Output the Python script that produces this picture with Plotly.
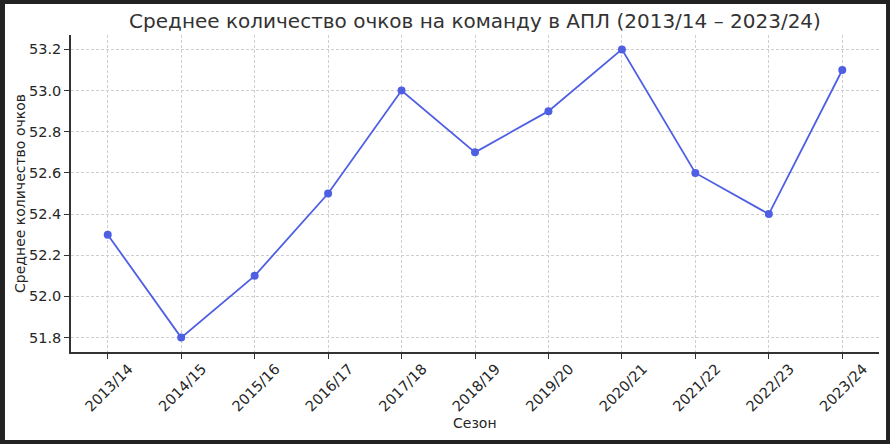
import plotly.graph_objects as go

seasons = ["2013/14", "2014/15", "2015/16", "2016/17", "2017/18", "2018/19",
           "2019/20", "2020/21", "2021/22", "2022/23", "2023/24"]
avg_points = [52.3, 51.8, 52.1, 52.5, 53.0, 52.7, 52.9, 53.2, 52.6, 52.4, 53.1]
y_ticks = [51.8, 52.0, 52.2, 52.4, 52.6, 52.8, 53.0, 53.2]
y_tick_labels = ["51.8", "52.0", "52.2", "52.4", "52.6", "52.8", "53.0", "53.2"]

FONT = "DejaVu Sans"
color = "#4F5FE3"

fig = go.Figure()
fig.add_trace(go.Scatter(
    x=seasons, y=avg_points, mode="lines+markers",
    line=dict(color=color, width=1.8),
    marker=dict(color=color, size=8),
    showlegend=False,
))

fig.update_layout(
    width=890, height=444,
    margin=dict(l=71, r=11, t=35, b=92, autoexpand=False),
    paper_bgcolor="#222222",
    plot_bgcolor="rgba(0,0,0,0)",
    font=dict(family=FONT, size=14.5, color="#262626"),
    title=dict(text="Среднее количество очков на команду в АПЛ (2013/14 – 2023/24)",
               x=0.5, xref="paper", xanchor="center", y=0.952, yref="container", yanchor="middle",
               font=dict(family=FONT, size=20, color="#333333")),
    shapes=[dict(type="rect", xref="paper", yref="paper",
                 x0=-0.0817, x1=1.0087, y0=-0.2776, y1=1.0978,
                 fillcolor="white", line=dict(width=0), layer="below")],
    annotations=[dict(text="Сезон", xref="paper", yref="paper", x=0.5, y=-0.224,
                      xanchor="center", yanchor="middle", showarrow=False,
                      font=dict(family=FONT, size=14, color="#262626"))],
)

grid_kw = dict(showgrid=True, gridcolor="#cfcfcf", griddash="3px,2px", gridwidth=1)

fig.update_xaxes(
    type="category", range=[-0.5, 10.5],
    tickangle=-45, ticklabelshift=21, ticklabelstandoff=-4,
    showline=True, linecolor="#333333", linewidth=1.5,
    ticks="outside", ticklen=5, tickcolor="#333333", tickwidth=1,
    zeroline=False, **grid_kw,
)
fig.update_yaxes(
    range=[51.73, 53.27],
    tickvals=y_ticks, ticktext=y_tick_labels,
    showline=True, linecolor="#333333", linewidth=1.5,
    ticks="outside", ticklen=5, tickcolor="#333333", tickwidth=1,
    title=dict(text="Среднее количество очков", font=dict(family=FONT, size=14), standoff=0),
    zeroline=False, **grid_kw,
)

fig.write_html("out.html", config={"displayModeBar": False},
               post_script="document.body.style.margin='0';")
